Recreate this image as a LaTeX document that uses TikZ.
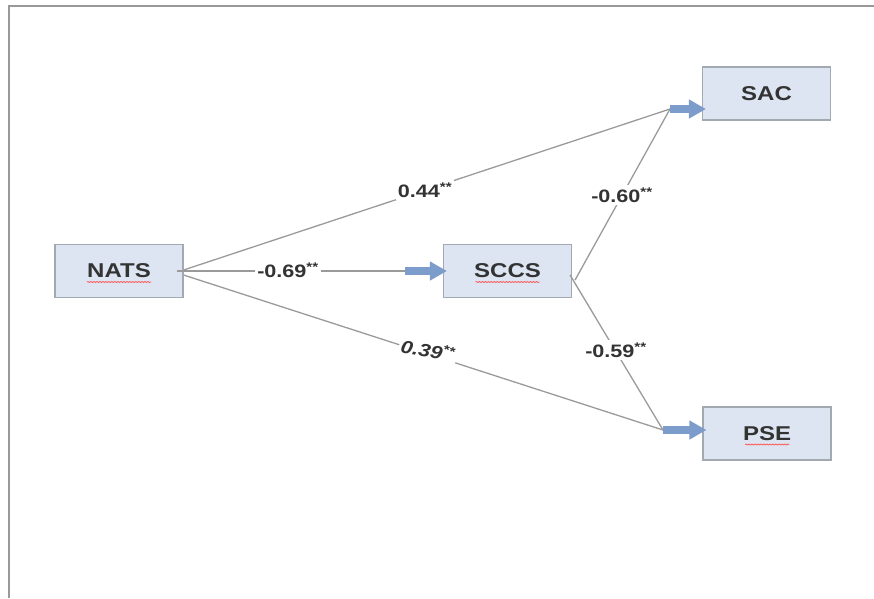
\documentclass[tikz,border=0pt]{standalone}
\usepackage{fontspec}
\setmainfont{Liberation Sans}[FakeStretch=1.2]
\usepackage{tikz}
\usetikzlibrary{arrows.meta,decorations.pathmorphing}

\definecolor{boxfill}{HTML}{DCE5F1}
\definecolor{boxline}{HTML}{A3A9B0}
\definecolor{pathline}{HTML}{9A9A9A}
\definecolor{headblue}{HTML}{7C9CCB}
\definecolor{textgrey}{HTML}{333333}

\tikzset{
  varbox/.style={draw=boxline, fill=boxfill, line width=1.1pt, minimum width=128pt, minimum height=53pt,
    text=textgrey, font=\fontsize{20}{23}\selectfont\bfseries},
  pathway/.style={draw=pathline, line width=1.3pt},
  blockhead/.style={draw=headblue, line width=8pt, -{Triangle[length=17pt,width=18pt]}, shorten >=-4pt},
  coef/.style={fill=white, inner sep=2pt, text=textgrey, font=\fontsize{18}{21}\selectfont\bfseries},
  squiggle/.style={draw=red!65, line width=0.8pt, decorate, decoration={snake, amplitude=0.5pt, segment length=3pt}}
}
\newcommand{\stars}{\textsuperscript{**}}

\begin{document}
\begin{tikzpicture}[x=1pt, y=-1pt]
\useasboundingbox (0,0) rectangle (874,598);
% frame of the page, only top and left edges show
\draw[gray!80, line width=2pt] (8.5,598) -- (8.5,6) -- (874,6);

% the four variables
\node[varbox] (nats) at (119,271) {NATS};
\node[varbox] (sccs) at (507.5,271) {SCCS};
\node[varbox] (sac) at (766.5,93.5) {SAC};
\node[varbox] (pse) at (767,433.5) {PSE};

% spell checker underlines
\draw[squiggle] ([xshift=-32pt,yshift=-11pt]nats.center) -- ([xshift=32pt,yshift=-11pt]nats.center);
\draw[squiggle] ([xshift=-32pt,yshift=-11pt]sccs.center) -- ([xshift=32pt,yshift=-11pt]sccs.center);
\draw[squiggle] ([xshift=-22pt,yshift=-11pt]pse.center) -- ([xshift=22pt,yshift=-11pt]pse.center);

% the paths meet here before the arrow heads
\coordinate (inSCCS) at (405,271);
\coordinate (inSAC) at (670,109);
\coordinate (inPSE) at (663,430);

\draw[pathway] ([xshift=-7pt]nats.east) -- (inSCCS);
\draw[pathway] ([yshift=1pt]nats.east) -- (inSAC);
\draw[pathway] ([yshift=-4pt]nats.east) -- (inPSE);
\draw[pathway] ([xshift=3pt,yshift=-9pt]sccs.east) -- (inSAC);
\draw[pathway] ([xshift=-2pt,yshift=-4pt]sccs.east) -- (inPSE);

\draw[blockhead] (inSCCS) -- (inSCCS -| sccs.west);
\draw[blockhead] (inSAC) -- (inSAC -| sac.west);
\draw[blockhead] (inPSE) -- (inPSE -| pse.west);

% path coefficients
\node[coef] (c1) at (288,270) {-0.69\stars};
\node[coef] (c2) at (425,190) {0.44\stars};
\node[coef, rotate=-11, font=\fontsize{18}{21}\selectfont\bfseries\itshape] (c3) at (428,350) {0.39\stars};
\node[coef] (c4) at (622,195) {-0.60\stars};
\node[coef] (c5) at (616,350) {-0.59\stars};
\end{tikzpicture}
\end{document}
